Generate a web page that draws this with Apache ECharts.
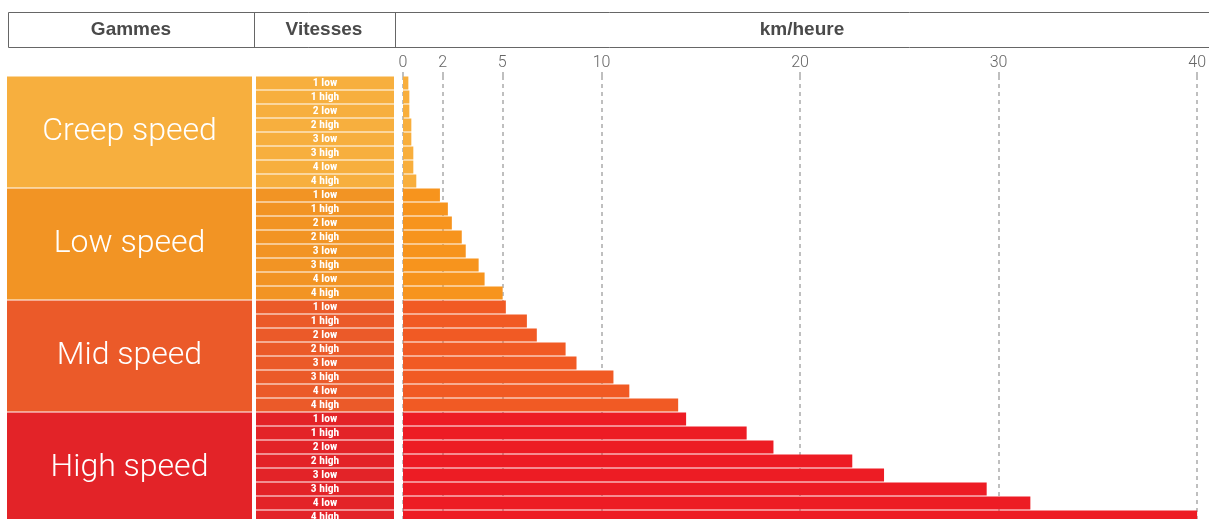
<!DOCTYPE html>
<html>
<head>
<meta charset="utf-8">
<script src="https://cdn.jsdelivr.net/npm/echarts@6/dist/echarts.min.js"></script>
<style>
html,body{margin:0;padding:0;background:#fff;overflow:hidden;}
#chart{width:1209px;height:540px;}
</style>
</head>
<body>
<div id="chart"></div>
<script>
// ---- data ----
const ranges = ['Creep speed', 'Low speed', 'Mid speed', 'High speed'];
const speeds = ['1 low', '1 high', '2 low', '2 high', '3 low', '3 high', '4 low', '4 high'];
const creepKmh = [0.27, 0.32, 0.32, 0.42, 0.42, 0.52, 0.52, 0.67];
const lowKmh   = [1.86, 2.26, 2.46, 2.96, 3.16, 3.81, 4.11, 5.02];
const midKmh   = [5.18, 6.24, 6.74, 8.19, 8.74, 10.6, 11.4, 13.86];
const highKmh  = [14.26, 17.31, 18.66, 22.63, 24.23, 29.4, 31.6, 40.0];
const tickValues = [0, 2, 5, 10, 20, 30, 40];
const headers = ['Gammes', 'Vitesses', 'km/heure'];

// ---- styles ----
const blockColors = ['#F7AF3E', '#F29424', '#EB5A29', '#E32328'];
const barColors   = ['#F8AE3C', '#F7941D', '#F15A24', '#ED1C24'];

const groups = [creepKmh, lowKmh, midKmh, highKmh];
const rowKeys = [];
const rowSpeed = [];
const rowGroup = [];
const rowValues = [];
groups.forEach((vals, g) => {
  speeds.forEach((s, i) => {
    rowKeys.push(ranges[g] + ' ' + s);
    rowSpeed.push(s);
    rowGroup.push(g);
    rowValues.push(vals[i]);
  });
});

const chart = echarts.init(document.getElementById('chart'), null, {renderer: 'canvas'});
const gridTop = 76, rowH = 14, gridH = rowH * rowKeys.length;
const gridStyle = {color: '#aaaaaa', width: 1.5, type: [4, 4]};

const option = {
  animation: false,
  backgroundColor: '#ffffff',
  grid: [
    {left: 7, top: gridTop, width: 245, height: gridH},
    {left: 256, top: gridTop, width: 138, height: gridH},
    {left: 403, top: gridTop, width: 797, height: gridH}
  ],
  xAxis: [
    {gridIndex: 0, type: 'value', min: 0, max: 1, show: false},
    {gridIndex: 1, type: 'value', min: 0, max: 1, show: false},
    {gridIndex: 2, type: 'value', min: 0, max: 40, position: 'top',
      axisLine: {show: false},
      axisTick: {show: true, length: 4, customValues: tickValues, lineStyle: gridStyle},
      axisLabel: {customValues: tickValues, margin: 5, color: '#666666', fontSize: 16,
        fontFamily: 'Roboto, sans-serif', fontWeight: 300},
      splitLine: {show: true, lineStyle: gridStyle}
    }
  ],
  yAxis: [
    {gridIndex: 0, type: 'category', data: ranges, inverse: true, show: false},
    {gridIndex: 1, type: 'category', data: rowKeys, inverse: true, show: false},
    {gridIndex: 2, type: 'category', data: rowKeys, inverse: true, show: false}
  ],
  series: [
    {
      type: 'bar', xAxisIndex: 0, yAxisIndex: 0, barWidth: 111,
      data: ranges.map((r, i) => ({value: 1, itemStyle: {color: blockColors[i]}})),
      label: {show: true, position: 'inside', formatter: p => ranges[p.dataIndex],
        color: '#ffffff', fontSize: 32, fontFamily: 'Roboto, sans-serif', fontWeight: 300}
    },
    {
      type: 'bar', xAxisIndex: 1, yAxisIndex: 1, barWidth: 13,
      data: rowKeys.map((k, i) => ({value: 1, itemStyle: {color: blockColors[rowGroup[i]]}})),
      label: {show: true, position: 'inside', formatter: p => rowSpeed[p.dataIndex],
        color: '#ffffff', fontSize: 11.5, fontWeight: 'bold',
        fontFamily: '"Liberation Sans Narrow", "Roboto Condensed", Arial, sans-serif'}
    },
    {
      type: 'bar', xAxisIndex: 2, yAxisIndex: 2, barWidth: 13,
      data: rowValues.map((v, i) => ({value: v, itemStyle: {color: barColors[rowGroup[i]]}}))
    }
  ],
  graphic: [
    {type: 'rect', z: 100, shape: {x: 8.5, y: 12.5, width: 1220, height: 35},
      style: {fill: 'none', stroke: '#666666', lineWidth: 1}},
    {type: 'line', z: 100, shape: {x1: 254.5, y1: 12.5, x2: 254.5, y2: 47.5},
      style: {stroke: '#666666', lineWidth: 1}},
    {type: 'line', z: 100, shape: {x1: 395.5, y1: 12.5, x2: 395.5, y2: 47.5},
      style: {stroke: '#666666', lineWidth: 1}},
    {type: 'text', z: 100, x: 131, y: 30, style: {text: headers[0], fill: '#4a4a4a',
      font: 'bold 19px "Liberation Sans", Arial, sans-serif', textAlign: 'center', textVerticalAlign: 'middle'}},
    {type: 'text', z: 100, x: 324, y: 30, style: {text: headers[1], fill: '#4a4a4a',
      font: 'bold 19px "Liberation Sans", Arial, sans-serif', textAlign: 'center', textVerticalAlign: 'middle'}},
    {type: 'text', z: 100, x: 802, y: 30, style: {text: headers[2], fill: '#4a4a4a',
      font: 'bold 19px "Liberation Sans", Arial, sans-serif', textAlign: 'center', textVerticalAlign: 'middle'}}
  ]
};
chart.setOption(option);
</script>
</body>
</html>
